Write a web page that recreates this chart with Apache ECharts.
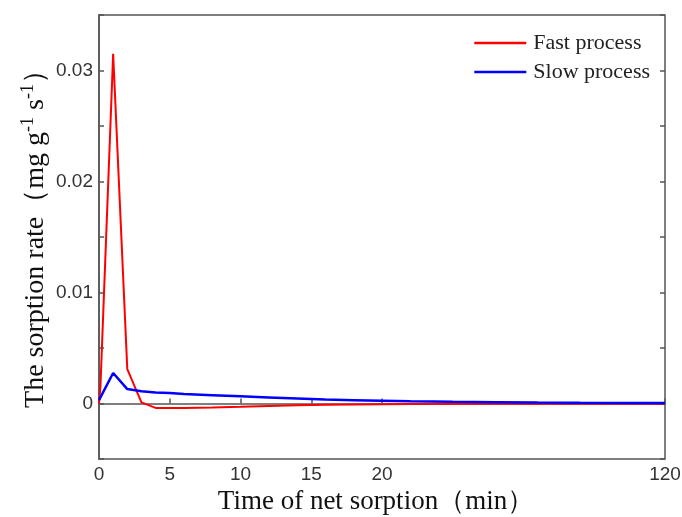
<!DOCTYPE html>
<html>
<head>
<meta charset="utf-8">
<script src="https://cdn.jsdelivr.net/npm/echarts@6/dist/echarts.min.js"></script>
<style>
  html, body { margin: 0; padding: 0; background: #fff; }
  #chart { width: 682px; height: 517px; }
</style>
</head>
<body>
<div id="chart"></div>
<script>
// time in minutes, rate in mg g-1 s-1
var fastTime = [0, 0.1, 1, 2, 3, 4, 6, 8, 10, 12, 14, 16, 18, 20, 30, 60, 90, 120]
var fastRate = [0, 0.0015, 0.0315, 0.0031, 0.0001, -0.0004, -0.0004, -0.00036, -0.0003, -0.00022, -0.00016, -0.00011, -0.00008, -0.00006, -0.00004, -0.00003, -0.00003, -0.00003]
var slowTime = [0, 1, 2, 3, 4, 5, 6, 8, 10, 12, 14, 16, 18, 20, 30, 45, 60, 75, 90, 120]
var slowRate = [0.0003, 0.00275, 0.0013, 0.0011, 0.001, 0.00095, 0.00085, 0.00075, 0.00065, 0.00055, 0.00045, 0.00035, 0.0003, 0.00025, 0.0002, 0.00015, 0.00012, 0.00008, 0.00006, 0.00005]
var xTickValues = [0, 5, 10, 15, 20, 120]
var yLabelValues = [0, 0.01, 0.02, 0.03]

// the axis is broken after 20 min: 20..120 is squeezed into the same width as 0..20
function warp(t) {
  return t <= 20 ? t : 20 + (t - 20) / 5
}
function pairs(times, rates) {
  return times.map(function(t, i) { return [warp(t), rates[i]] })
}

var axisColor = '#555'
var labelFont = { fontFamily: 'Liberation Sans', fontSize: 19, color: '#333' }
var serif = 'Liberation Serif'

var chart = echarts.init(document.getElementById('chart'))
chart.setOption({
  animation: false,
  grid: {
    left: 99, right: 17, top: 15, bottom: 58,
    outerBoundsMode: 'none',
    show: true, borderColor: axisColor, borderWidth: 1.5
  },
  legend: {
    orient: 'vertical',
    right: 27,
    top: 27,
    icon: 'rect',
    itemWidth: 52,
    itemHeight: 2.5,
    itemGap: 7,
    align: 'left',
    textStyle: { fontFamily: serif, fontSize: 22, color: '#222', padding: [0, 0, 0, 2] },
    data: ['Fast process', 'Slow process']
  },
  xAxis: [{
    type: 'value',
    min: 0,
    max: warp(120),
    interval: 5,
    name: 'Time of net sorption（min）',
    nameLocation: 'middle',
    nameGap: 29,
    nameMoveOverlap: false,
    nameTextStyle: { fontFamily: serif, fontSize: 27, color: '#111', verticalAlign: 'top', padding: [0, 12, 0, 0] },
    axisLine: { lineStyle: { color: axisColor, width: 1.5 } },
    axisTick: {
      inside: true, length: 5,
      customValues: xTickValues.map(warp),
      lineStyle: { color: axisColor, width: 1.5 }
    },
    axisLabel: Object.assign({
      margin: 6,
      customValues: xTickValues.map(warp),
      formatter: function(v) { return v === warp(120) ? '120' : String(v) }
    }, labelFont),
    splitLine: { show: false }
  }],
  yAxis: [{
    type: 'value',
    min: -0.005,
    max: 0.035,
    interval: 0.005,
    name: 'The sorption rate（mg g{sup|-1} s{sup|-1}）',
    nameLocation: 'middle',
    nameRotate: 90,
    nameGap: 46,
    nameMoveOverlap: false,
    nameTextStyle: {
      fontFamily: serif, fontSize: 28, color: '#111', lineHeight: 34,
      padding: [0, 0, 0, 10],
      rich: {
        sup: { fontFamily: serif, fontSize: 18, color: '#111', verticalAlign: 'top', lineHeight: 34 }
      }
    },
    axisLine: { show: true, lineStyle: { color: axisColor, width: 1.5 } },
    axisTick: { inside: true, length: 5, lineStyle: { color: axisColor, width: 1.5 } },
    axisLabel: Object.assign({
      margin: 6,
      customValues: yLabelValues,
      formatter: function(v) { return v === 0 ? '0' : v.toFixed(2) }
    }, labelFont),
    splitLine: { show: false }
  }, {
    type: 'value',
    position: 'right',
    min: -0.005,
    max: 0.035,
    interval: 0.005,
    axisLine: { show: false },
    axisTick: { show: true, inside: true, length: 5, lineStyle: { color: axisColor, width: 1.5 } },
    axisLabel: { show: false },
    splitLine: { show: false }
  }],
  series: [
    {
      name: 'Fast process',
      type: 'line',
      symbol: 'none',
      lineStyle: { color: '#ff0000', width: 2 },
      itemStyle: { color: '#ff0000' },
      data: pairs(fastTime, fastRate)
    },
    {
      name: 'Slow process',
      type: 'line',
      symbol: 'none',
      lineStyle: { color: '#0000ff', width: 2.5 },
      itemStyle: { color: '#0000ff' },
      data: pairs(slowTime, slowRate)
    }
  ]
})
</script>
</body>
</html>
